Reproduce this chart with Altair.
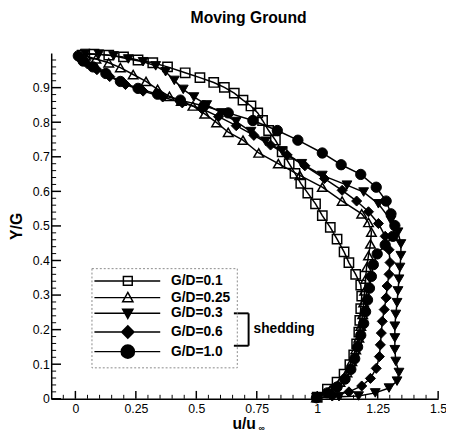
import math
import altair as alt
import pandas as pd

series = ["G/D=0.1", "G/D=0.25", "G/D=0.3", "G/D=0.6", "G/D=1.0"]

# G/D = 0.1 (open squares), from the ground (Y=0) up to the cylinder (Y=1)
u_01 = [1.0, 1.042, 1.082, 1.111, 1.135, 1.151, 1.163, 1.172, 1.176, 1.180, 1.184,
        1.180, 1.159, 1.131, 1.111, 1.082, 1.054, 1.021, 0.993, 0.961, 0.932, 0.908,
        0.884, 0.855, 0.827, 0.799, 0.774, 0.754, 0.726, 0.693, 0.657, 0.616, 0.572,
        0.515, 0.454, 0.381, 0.320, 0.259, 0.199, 0.138, 0.077, 0.028]
y_01 = [0.005, 0.028, 0.048, 0.071, 0.099, 0.127, 0.159, 0.193, 0.227, 0.261, 0.297,
        0.329, 0.360, 0.394, 0.425, 0.462, 0.496, 0.530, 0.564, 0.595, 0.623, 0.652,
        0.680, 0.714, 0.748, 0.776, 0.805, 0.827, 0.847, 0.864, 0.884, 0.901, 0.915,
        0.929, 0.943, 0.960, 0.972, 0.980, 0.989, 0.994, 0.997, 0.994]

# G/D = 0.25 (open triangles)
u_025 = [0.997, 1.054, 1.094, 1.123, 1.143, 1.159, 1.172, 1.180, 1.188, 1.192, 1.196,
         1.200, 1.204, 1.212, 1.220, 1.224, 1.212, 1.184, 1.103, 1.021, 0.928, 0.839,
         0.758, 0.693, 0.632, 0.584, 0.535, 0.486, 0.438, 0.389, 0.340, 0.292, 0.239,
         0.186, 0.138, 0.085, 0.041]
y_025 = [0.003, 0.025, 0.048, 0.076, 0.108, 0.142, 0.176, 0.210, 0.244, 0.278, 0.312,
         0.346, 0.380, 0.414, 0.448, 0.482, 0.510, 0.535, 0.572, 0.612, 0.646, 0.680,
         0.711, 0.748, 0.771, 0.799, 0.824, 0.847, 0.861, 0.875, 0.895, 0.918, 0.938,
         0.958, 0.972, 0.983, 0.992]

# G/D = 0.3 (filled inverted triangles)
u_03 = [0.997, 1.090, 1.171, 1.240, 1.297, 1.330, 1.338, 1.325, 1.321, 1.321, 1.321,
        1.325, 1.330, 1.334, 1.338, 1.342, 1.346, 1.346, 1.334, 1.305, 1.253, 1.192,
        1.123, 1.021, 0.936, 0.855, 0.786, 0.726, 0.665, 0.604, 0.543, 0.490, 0.446,
        0.409, 0.373, 0.332, 0.280, 0.219, 0.158, 0.097, 0.041]
y_03 = [0.003, 0.006, 0.008, 0.017, 0.031, 0.051, 0.076, 0.108, 0.142, 0.176, 0.210,
        0.244, 0.278, 0.312, 0.346, 0.380, 0.414, 0.448, 0.482, 0.516, 0.564, 0.598,
        0.618, 0.646, 0.680, 0.717, 0.745, 0.773, 0.802, 0.827, 0.850, 0.873, 0.895,
        0.921, 0.946, 0.963, 0.975, 0.983, 0.992, 0.997, 0.999]

# G/D = 0.6 (filled diamonds)
u_06 = [0.997, 1.062, 1.131, 1.184, 1.220, 1.244, 1.257, 1.261, 1.265, 1.269, 1.277,
        1.285, 1.289, 1.297, 1.301, 1.297, 1.281, 1.253, 1.212, 1.163, 1.103, 1.030,
        0.949, 0.876, 0.807, 0.738, 0.665, 0.592, 0.523, 0.442, 0.361, 0.280, 0.207,
        0.142, 0.089, 0.049, 0.020]
y_06 = [0.003, 0.008, 0.020, 0.037, 0.059, 0.088, 0.122, 0.156, 0.190, 0.224, 0.258,
        0.292, 0.326, 0.360, 0.394, 0.431, 0.470, 0.507, 0.541, 0.572, 0.603, 0.637,
        0.674, 0.705, 0.734, 0.762, 0.790, 0.816, 0.839, 0.856, 0.873, 0.890, 0.909,
        0.932, 0.952, 0.969, 0.983]

# G/D = 1.0 (filled circles)
u_10 = [0.997, 1.042, 1.082, 1.115, 1.139, 1.155, 1.167, 1.180, 1.192, 1.200, 1.208,
        1.216, 1.224, 1.232, 1.248, 1.281, 1.313, 1.321, 1.305, 1.285, 1.244, 1.180,
        1.099, 1.021, 0.920, 0.835, 0.734, 0.632, 0.531, 0.434, 0.340, 0.259, 0.186,
        0.126, 0.073, 0.032, 0.012]
y_10 = [0.003, 0.017, 0.034, 0.057, 0.085, 0.116, 0.150, 0.184, 0.218, 0.252, 0.286,
        0.320, 0.354, 0.388, 0.419, 0.445, 0.470, 0.501, 0.535, 0.572, 0.612, 0.649,
        0.677, 0.711, 0.748, 0.776, 0.805, 0.827, 0.847, 0.864, 0.881, 0.898, 0.918,
        0.941, 0.960, 0.977, 0.992]

x_major = [0, 0.25, 0.5, 0.75, 1, 1.25, 1.5]
x_minor = [-0.05, 0.05, 0.1, 0.15, 0.2, 0.3, 0.35, 0.4, 0.45, 0.55, 0.6, 0.65, 0.7,
           0.8, 0.85, 0.9, 0.95, 1.05, 1.1, 1.15, 1.2, 1.3, 1.35, 1.4, 1.45]
y_major = [0, 0.1, 0.2, 0.3, 0.4, 0.5, 0.6, 0.7, 0.8, 0.9]
y_minor = [0.02, 0.04, 0.06, 0.08, 0.12, 0.14, 0.16, 0.18, 0.22, 0.24, 0.26, 0.28,
           0.32, 0.34, 0.36, 0.38, 0.42, 0.44, 0.46, 0.48, 0.52, 0.54, 0.56, 0.58,
           0.62, 0.64, 0.66, 0.68, 0.72, 0.74, 0.76, 0.78, 0.82, 0.84, 0.86, 0.88,
           0.92, 0.94, 0.96, 0.98]

FONT = "Liberation Sans"
W, H = 394, 352

rows = []
for name, us, ys in zip(series, [u_01, u_025, u_03, u_06, u_10],
                        [y_01, y_025, y_03, y_06, y_10]):
    for i, (u, y) in enumerate(zip(us, ys)):
        rows.append({"series": name, "u": u, "Y": y, "idx": i})
df = pd.DataFrame(rows)

x_scale = alt.Scale(domain=[-0.1, 1.5], nice=False, zero=False)
y_scale = alt.Scale(domain=[0, 1.0], nice=False, zero=False)
shape_scale = alt.Scale(domain=series,
                        range=["square", "triangle-up", "triangle-down", "diamond", "circle"])
size_scale = alt.Scale(domain=series, range=[90, 110, 115, 130, 165])

x_axis = alt.Axis(title="u/u", values=x_major, labelExpr="format(datum.value, '~g')",
                  ticks=False, grid=False, domainColor="black", domainWidth=1.5,
                  labelFont=FONT, labelFontSize=12.5, labelColor="black", labelPadding=4,
                  labelFlush=False, titleFont=FONT, titleFontSize=16, titleFontWeight="bold",
                  titleColor="black", titleX=196, titleY=30, titleBaseline="alphabetic")
y_axis = alt.Axis(title="Y/G", values=y_major, labelExpr="format(datum.value, '~g')",
                  ticks=False, grid=False, domainColor="black", domainWidth=1.5,
                  labelFont=FONT, labelFontSize=12.5, labelColor="black", labelPadding=2,
                  labelFlush=False, titleFont=FONT, titleFontSize=16, titleFontWeight="bold",
                  titleColor="black", titleX=-27, titleY=176)


def X(f):
    return alt.X(f, scale=x_scale, axis=x_axis)


def Y(f):
    return alt.Y(f, scale=y_scale, axis=y_axis)


lines = alt.Chart(df).mark_line(color="black", strokeWidth=1.5).encode(
    x=X("u:Q"), y=Y("Y:Q"), detail="series:N", order="idx:Q")

open_pts = alt.Chart(df).transform_filter(
    alt.FieldOneOfPredicate(field="series", oneOf=series[:2])
).mark_point(filled=False, color="black", strokeWidth=1.5, opacity=1).encode(
    x=X("u:Q"), y=Y("Y:Q"),
    shape=alt.Shape("series:N", scale=shape_scale, legend=None),
    size=alt.Size("series:N", scale=size_scale, legend=None),
)

filled_pts = alt.Chart(df).transform_filter(
    alt.FieldOneOfPredicate(field="series", oneOf=series[2:])
).mark_point(filled=True, color="black", stroke="black", strokeWidth=1, opacity=1).encode(
    x=X("u:Q"), y=Y("Y:Q"),
    shape=alt.Shape("series:N", scale=shape_scale, legend=None),
    size=alt.Size("series:N", scale=size_scale, legend=None),
)

tick_x_major = alt.Chart(pd.DataFrame({"t": x_major})).mark_rule(
    color="black", strokeWidth=1.5).encode(x=X("t:Q"), y=alt.value(H), y2=alt.value(H - 8))
tick_x_minor = alt.Chart(pd.DataFrame({"t": x_minor})).mark_rule(
    color="black", strokeWidth=1).encode(x=X("t:Q"), y=alt.value(H), y2=alt.value(H - 4))
tick_y_major = alt.Chart(pd.DataFrame({"t": y_major})).mark_rule(
    color="black", strokeWidth=1.5).encode(y=Y("t:Q"), x=alt.value(0), x2=alt.value(10))
tick_y_minor = alt.Chart(pd.DataFrame({"t": y_minor})).mark_rule(
    color="black", strokeWidth=1).encode(y=Y("t:Q"), x=alt.value(0), x2=alt.value(5))


# legend symbols: a line through a marker, as custom SVG paths (1 unit = 5 px);
# solid markers are filled with dense stroked hatching so one stroked legend suffices
def hatch(half_width, y0, y1, step=0.18):
    out, y = [], y0
    while y <= y1 + 1e-9:
        w = half_width(y)
        if w > 0.02:
            out.append(f"M{-w:.3f},{y:.3f}H{w:.3f}")
        y += step
    return "".join(out)


line_path = "M-6.8,0H6.6"
sq = "M-0.9,-0.9H0.9V0.9H-0.9Z"
tu = "M0,-1.05L1.05,0.85H-1.05Z"
td = "M0,1.05L1.05,-0.85H-1.05Z" + hatch(lambda y: 1.05 * (1.05 - y) / 1.9, -0.8, 0.95)
dm = "M0,-1.25L1.25,0L0,1.25L-1.25,0Z" + hatch(lambda y: 1.25 - abs(y), -1.1, 1.1)
ci = ("M-1.35,0A1.35,1.35,0,1,0,1.35,0A1.35,1.35,0,1,0,-1.35,0Z"
      + hatch(lambda y: math.sqrt(max(1.35 ** 2 - y * y, 0)), -1.26, 1.26))
legend_paths = [line_path + p for p in (sq, tu, td, dm, ci)]

legend_df = df[df["idx"] == 0].assign(key=lambda d: d["series"])
leg = alt.Legend(title=None, orient="none", legendX=41, legendY=219,
                 labelFont=FONT, labelFontSize=14, labelFontWeight="bold", labelColor="black",
                 symbolSize=100, symbolStrokeWidth=1.5, symbolOffset=24, labelOffset=37,
                 rowPadding=0, padding=6, symbolOpacity=1, strokeColor="#8a8a8a")

legend_layer = alt.Chart(legend_df).mark_point(
    opacity=0, size=100, strokeWidth=1.5, filled=False, color="black").encode(
    x=X("u:Q"), y=Y("Y:Q"),
    shape=alt.Shape("key:N", scale=alt.Scale(domain=series, range=legend_paths), legend=leg),
)

one = pd.DataFrame({"a": [0]})
br_v = alt.Chart(one).mark_rule(color="black", strokeWidth=2).encode(
    x=alt.value(201), y=alt.value(265), y2=alt.value(298))
br_t = alt.Chart(one).mark_rule(color="black", strokeWidth=2).encode(
    x=alt.value(186), x2=alt.value(201), y=alt.value(265))
br_b = alt.Chart(one).mark_rule(color="black", strokeWidth=2).encode(
    x=alt.value(186), x2=alt.value(201), y=alt.value(298))
shed = alt.Chart(one).mark_text(text="shedding", align="left", baseline="middle",
                                font=FONT, fontSize=14, fontWeight="bold",
                                color="black").encode(x=alt.value(206), y=alt.value(281))
sub = alt.Chart(one).mark_text(text="∞", align="left", baseline="alphabetic",
                               font=FONT, fontSize=9, fontWeight="bold",
                               color="black").encode(x=alt.value(211), y=alt.value(385))

chart = alt.layer(
    lines, open_pts, filled_pts, tick_x_major, tick_x_minor, tick_y_major, tick_y_minor,
    legend_layer, br_v, br_t, br_b, shed, sub,
).resolve_scale(
    shape="independent", size="independent"
).properties(
    width=W, height=H,
    title=alt.TitleParams("Moving Ground", font=FONT, fontSize=16, fontWeight="bold",
                          color="black", anchor="middle", frame="group", offset=21, dx=4),
    padding={"left": 44, "top": 42, "right": 8, "bottom": 34},
    autosize=alt.AutoSizeParams(type="none"),
).configure_view(stroke=None).configure_legend(strokeDash=[2, 2], strokeWidth=1)

chart.save("out.html", embed_options={"renderer": "svg", "actions": False})
